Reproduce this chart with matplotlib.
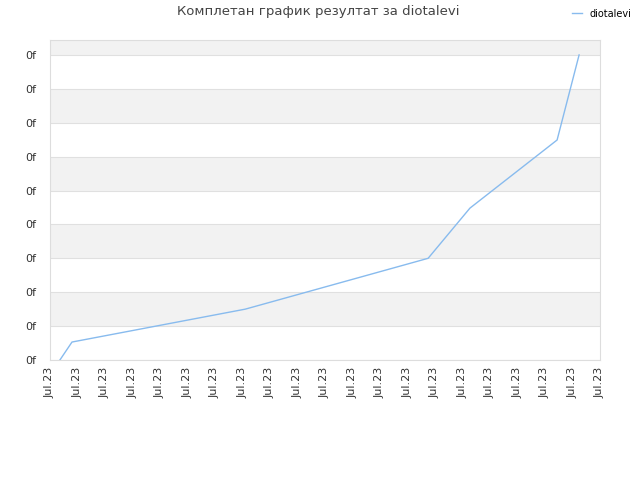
import matplotlib
matplotlib.use("Agg")
import matplotlib.pyplot as plt

x_vals = [0.36, 0.8, 7.1, 13.75, 15.27, 18.44, 19.24]
y_vals = [0.0, 0.53, 1.5, 3.0, 4.48, 6.49, 9.0]
x_ticks = list(range(21))
x_labels = ["Jul.23"] * 21
y_ticks = list(range(10))
y_labels = ["0f"] * 10

fig = plt.figure(figsize=(6.4, 4.8), dpi=100)
ax = fig.add_axes([50/640, 1-360/480, 550/640, 320/480])
ax.set_xlim(0, 20)
ax.set_ylim(0, 9.44)
for i in range(10):
    lo, hi = i, min(i + 1, 9.44)
    if i % 2 == 1:
        ax.axhspan(lo, hi, color="#f2f2f2", zorder=0, lw=0)
for y in y_ticks:
    ax.axhline(y, color="#e0e0e0", lw=0.8, zorder=1)
ax.plot(x_vals, y_vals, color="#88bbee", lw=1, zorder=3, label="diotalevi")
ax.set_xticks(x_ticks)
ax.set_xticklabels(x_labels, rotation=90, fontsize=8, color="#333333")
ax.set_yticks(y_ticks)
ax.set_yticklabels(y_labels, fontsize=8, color="#333333")
ax.tick_params(axis="y", length=0, pad=10)
ax.tick_params(axis="x", length=0, pad=5)
for s in ax.spines.values():
    s.set_color("#dddddd")
fig.text(318/640, 1-12/480, "Комплетан график резултат за diotalevi", ha="center", va="center",
         fontsize=9.5, color="#444444")
fig.legend(loc="upper right", bbox_to_anchor=(1.0, 1.0), frameon=False, fontsize=7,
           handlelength=1)
fig.savefig("out.png", dpi=100)
